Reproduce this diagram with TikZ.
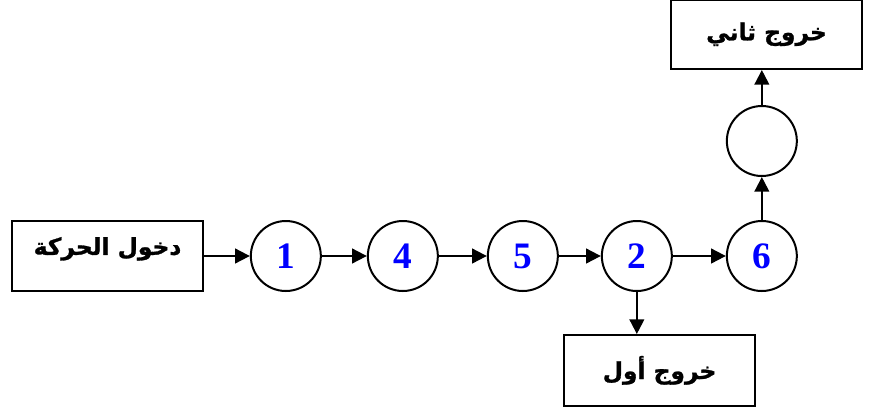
\documentclass[tikz,border=0pt]{standalone}
\usepackage{fontspec}
\setmainfont{Liberation Serif}
\newfontfamily\arabicfont[Script=Arabic, FakeBold=1.2]{DejaVu Sans}
\TeXXeTstate=1
\usetikzlibrary{positioning, arrows.meta}

\begin{document}
\begin{tikzpicture}[x=0.75pt, y=-0.75pt, >={Triangle[length=11pt, width=11pt]},
  box/.style={rectangle, draw, line width=1.5pt, minimum width=143pt, minimum height=52pt,
              font=\arabicfont\bfseries\fontsize{17.5}{20}\selectfont},
  stage/.style={circle, draw, line width=1.5pt, minimum size=52.5pt, inner sep=0pt,
                text=blue, font=\bfseries\fontsize{28}{30}\selectfont},
  flow/.style={->, line width=1.5pt},
]
  \useasboundingbox (0,0) rectangle (880,411);
  \node[box, text depth=15pt] (in) at (107.5,256) {\beginR دخول الحركة\endR};
  \node[stage, right=34.5pt of in] (s1) {1};
  \node[stage, right=33.75pt of s1] (s4) {4};
  \node[stage, right=36pt of s4] (s5) {5};
  \node[stage, right=31.5pt of s5] (s2) {2};
  \node[stage, right=39.75pt of s2] (s6) {6};
  \node[stage, above=32.25pt of s6] (s7) {};
  \node[box, above=26.25pt of s7, xshift=3.5pt] (out2) {\beginR خروج ثاني\endR};
  \node[box, below=31.5pt of s2, xshift=17pt, minimum height=53pt] (out1) {\beginR خروج أول\endR};
  \draw[flow] (in) -- (s1);
  \draw[flow] (s1) -- (s4);
  \draw[flow] (s4) -- (s5);
  \draw[flow] (s5) -- (s2);
  \draw[flow] (s2) -- (s6);
  \draw[flow] (s6) -- (s7);
  \draw[flow] (s7) -- (s7 |- out2.south);
  % first exit leaves 2 downwards
  \draw[flow] (s2) -- (s2 |- out1.north);
\end{tikzpicture}
\end{document}
